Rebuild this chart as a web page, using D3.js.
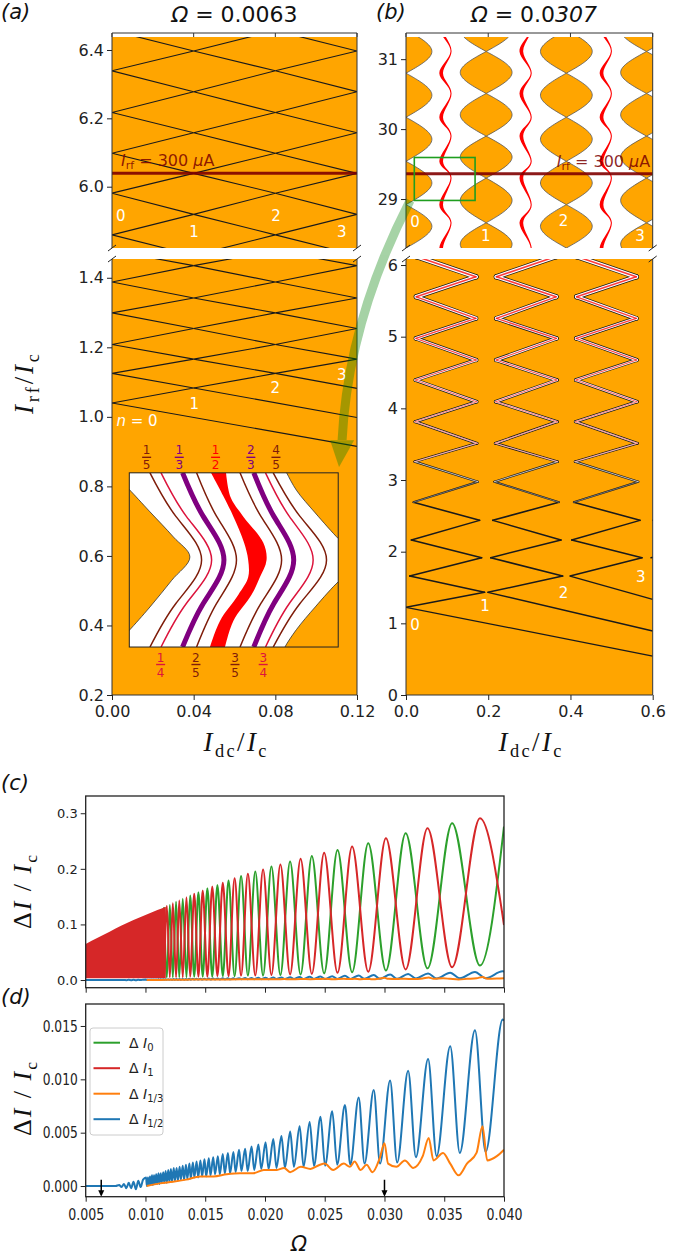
<!DOCTYPE html>
<html>
<head>
<meta charset="utf-8">
<script src="https://cdn.jsdelivr.net/npm/d3@7/dist/d3.min.js"></script>
<style>
html,body{margin:0;padding:0;background:#fff;}
svg{display:block;}
</style>
</head>
<body>
<svg id="fig" width="685" height="1255" xmlns="http://www.w3.org/2000/svg"></svg>
<script>
// ================= DATA =================
// ---- Panel (a): Omega = 0.0063 ----
const aStepEdges = [0, 0.04, 0.08, 0.12];
const aTopVertices = [5.739, 5.799, 5.859, 5.919, 5.981, 6.039, 6.098, 6.158, 6.217, 6.278, 6.339, 6.397, 6.457, 6.517];
const aBotVertices = [1.040, 1.083, 1.125, 1.166, 1.208, 1.254, 1.299, 1.342, 1.388, 1.435, 1.478, 1.522];
const aBotTails = [[0, 1.040, 0.12, 0.915], [0.04, 1.083, 0.12, 0.998], [0.08, 1.125, 0.12, 1.082]];
const aTopYTicks = [6.0, 6.2, 6.4];
const aBotYTicks = [0.2, 0.4, 0.6, 0.8, 1.0, 1.2, 1.4];
const aXTicks = [0, 0.04, 0.08, 0.12];
const aTopLabels = [["0", 0.0043, 5.914], ["1", 0.0402, 5.867], ["2", 0.0803, 5.914], ["3", 0.1125, 5.867]];
const aBotLabels = [["1", 0.0403, 1.036], ["2", 0.080, 1.082], ["3", 0.1125, 1.12]];
const aIrfMark = 6.039;

// ---- Inset of panel (a) (fractional coordinates inside the zoom box) ----
const insetLeftEdge = [[-0.03, 0.94], [0, 0.904], [0.099, 0.776], [0.211, 0.632], [0.29, 0.517], [0.203, 0.383], [0.099, 0.23], [0, 0.096], [-0.03, 0.06]];
const insetTopRightEdge = [[0.74, 1.03], [0.753, 1.0], [0.80, 0.90], [0.89, 0.77], [1.0, 0.623], [1.03, 0.59]];
const insetBotRightEdge = [[1.03, 0.40], [1.0, 0.374], [0.89, 0.23], [0.80, 0.10], [0.745, 0.0], [0.735, -0.03]];
const insetStripeV = [1, 0.75, 0.5, 0.25, 0];
const insetStripeNames = ["1/5", "1/4", "1/3", "2/5", "3/5", "2/3", "3/4", "4/5"];
const insetStripeU = [
  [0.099, 0.223, 0.346, 0.223, 0.099],
  [0.152, 0.273, 0.394, 0.273, 0.152],
  [0.255, 0.354, 0.453, 0.354, 0.255],
  [0.322, 0.418, 0.513, 0.418, 0.322],
  [0.530, 0.630, 0.729, 0.630, 0.530],
  [0.596, 0.692, 0.787, 0.692, 0.596],
  [0.652, 0.766, 0.880, 0.766, 0.652],
  [0.689, 0.817, 0.944, 0.817, 0.689]
];
const insetHalfV = [1, 0.86, 0.75, 0.6, 0.5, 0.4, 0.3, 0.15, 0];
const insetHalfLeft = [0.391, 0.453, 0.498, 0.549, 0.569, 0.569, 0.522, 0.434, 0.386];
const insetHalfRight = [0.463, 0.485, 0.545, 0.641, 0.657, 0.625, 0.585, 0.498, 0.458];
const fracTopNames = ["1/5", "1/3", "1/2", "2/3", "4/5"];
const fracTopU = [0.083, 0.239, 0.413, 0.582, 0.702];
const fracBotNames = ["1/4", "2/5", "3/5", "3/4"];
const fracBotU = [0.150, 0.319, 0.506, 0.641];

// ---- Panel (b): Omega = 0.0307 ----
const bStepEdges = [0, 0.195, 0.39, 0.585, 0.78];
const bBotVertices = [1.224, 1.433, 1.66, 1.916, 2.163, 2.437, 2.69, 2.976, 3.256, 3.512, 3.814, 4.092, 4.395, 4.674, 4.976, 5.255, 5.557, 5.836, 6.12, 6.40];
const bBotGaps = [0.000, 0.004, 0.009, 0.011, 0.013, 0.016, 0.018, 0.020, 0.021, 0.022, 0.022, 0.023, 0.023, 0.024, 0.024, 0.025, 0.025, 0.025, 0.025, 0.025];
const bBotTails = [[0, 1.224, 0.6, 0.544], [0.199, 1.433, 0.6, 0.893], [0.399, 1.66, 0.6, 1.333]];
const bTopColumns = [0, 0.195, 0.39, 0.585];
const bTopPinchesA = [27.68, 28.30, 28.92, 29.54, 30.17, 30.80, 31.42];
const bTopPinchesB = [28.05, 28.66, 29.30, 29.90, 30.51, 31.11, 31.72];
const bTopLobeHalfWidth = 0.063;
const bTopWiggle = 0.012;
const bTopYTicks = [29, 30, 31];
const bBotYTicks = [0, 1, 2, 3, 4, 5, 6];
const bXTicks = [0, 0.2, 0.4, 0.6];
const bTopLabels = [["0", 0.022, 28.666], ["1", 0.194, 28.476], ["2", 0.383, 28.68], ["3", 0.569, 28.476]];
const bBotLabels = [["0", 0.022, 0.977], ["1", 0.192, 1.242], ["2", 0.383, 1.428], ["3", 0.571, 1.642]];
const bIrfMark = 29.36;
const bZoomBox = [0.0202, 0.168, 28.98, 29.594];

// ---- Panels (c), (d): step widths vs Omega ----
const omegaTicks = [0.005, 0.010, 0.015, 0.020, 0.025, 0.030, 0.035, 0.040];
const cYTicks = [0.0, 0.1, 0.2, 0.3];
const dYTicks = [0.000, 0.005, 0.010, 0.015];
const denseOmega = [0.005, 0.006, 0.007, 0.008, 0.009, 0.010, 0.011, 0.0117];
const denseTop = [0.065, 0.076, 0.087, 0.098, 0.108, 0.117, 0.126, 0.132];
const zeroPts = [
[0.01156,0.131],[0.01179,0.005],[0.01204,0.135],[0.01229,0.005],[0.01256,0.141],[0.01283,0.005],[0.01312,0.146],[0.01343,0.005],
[0.01374,0.152],[0.01408,0.006],[0.01443,0.158],[0.01479,0.006],[0.01518,0.165],[0.01559,0.006],[0.01602,0.171],[0.01647,0.007],
[0.01695,0.179],[0.01746,0.007],[0.01800,0.187],[0.01857,0.008],[0.01919,0.195],[0.01984,0.008],[0.02054,0.204],[0.02129,0.009],
[0.02210,0.213],[0.02298,0.010],[0.02392,0.223],[0.02495,0.012],[0.02607,0.234],[0.02729,0.014],[0.02864,0.246],[0.03012,0.017],
[0.03177,0.264],[0.03360,0.021],[0.03566,0.282],[0.03799,0.026],[0.04000,0.276]];
const onePts = [
[0.01156,0.005],[0.01179,0.133],[0.01204,0.005],[0.01229,0.138],[0.01256,0.005],[0.01283,0.143],[0.01312,0.005],[0.01343,0.149],
[0.01374,0.006],[0.01408,0.155],[0.01443,0.006],[0.01479,0.161],[0.01518,0.006],[0.01559,0.168],[0.01602,0.007],[0.01647,0.175],
[0.01695,0.007],[0.01746,0.183],[0.01800,0.008],[0.01857,0.191],[0.01919,0.008],[0.01984,0.199],[0.02054,0.009],[0.02129,0.208],
[0.02210,0.010],[0.02298,0.218],[0.02392,0.011],[0.02495,0.229],[0.02607,0.013],[0.02729,0.240],[0.02864,0.015],[0.03012,0.255],
[0.03177,0.019],[0.03360,0.273],[0.03566,0.023],[0.03799,0.291],[0.04000,0.099]];
const thirdPts = [
[0.0101,0.0000],[0.0112,0.00025],[0.0123,0.0004],[0.0134,0.0006],[0.0146,0.0009],[0.0157,0.0009],[0.0168,0.0011],[0.0179,0.0012],
[0.0190,0.0012],[0.0199,0.0015],[0.0210,0.0015],[0.0216,0.0017],[0.0221,0.0013],[0.0230,0.0018],[0.0238,0.0016],[0.0246,0.0020],
[0.0250,0.0021],[0.0257,0.0015],[0.0266,0.0021],[0.0271,0.0018],[0.0275,0.0023],[0.0280,0.0015],[0.0285,0.0020],[0.0290,0.0013],
[0.0296,0.0026],[0.0300,0.0040],[0.0303,0.0021],[0.0310,0.0018],[0.0317,0.0024],[0.0324,0.0017],[0.0332,0.0028],[0.0337,0.0045],
[0.0341,0.0024],[0.0349,0.0031],[0.0355,0.0021],[0.0362,0.0010],[0.0369,0.0021],[0.0377,0.0031],[0.0382,0.0056],[0.0386,0.0024],
[0.0394,0.0028],[0.0400,0.0034]];
const halfPts = [
[0.0050,0],[0.0075,0],[0.0078,0.0001],[0.0080,-0.0001],[0.0082,0.0002],[0.0084,-0.0002],[0.0086,0.0003],[0.0088,-0.0002],
[0.0090,0.0004],[0.0092,-0.0003],[0.0094,0.0005],[0.0096,-0.0001],[0.0098,0.0006],
[0.01005,0.0008],[0.01012,0.0000],[0.01021,0.0008],[0.01028,0.0001],[0.01038,0.0009],[0.01044,0.0001],[0.01055,0.0010],[0.01062,0.0001],
[0.01072,0.0010],[0.01079,0.0002],[0.01090,0.0011],[0.01098,0.0002],[0.01109,0.0012],[0.01117,0.0002],[0.01128,0.0012],[0.01136,0.0003],
[0.01149,0.0013],[0.01157,0.0003],[0.01169,0.0014],[0.01178,0.0003],[0.01191,0.0015],[0.01200,0.0004],[0.01213,0.0016],[0.01222,0.0004],
[0.01237,0.0017],[0.01246,0.0005],[0.01261,0.0017],[0.01271,0.0005],[0.01286,0.0018],[0.01296,0.0006],[0.01312,0.0019],[0.01323,0.0006],
[0.01339,0.0020],[0.01350,0.0007],[0.01368,0.0021],[0.01379,0.0007],[0.01397,0.0022],[0.01409,0.0008],[0.01428,0.0023],[0.01441,0.0008],
[0.01460,0.0024],[0.01474,0.0009],[0.01494,0.0025],[0.01508,0.0009],[0.01530,0.0026],[0.01544,0.0010],[0.01567,0.0027],[0.01582,0.0011],
[0.01606,0.0028],[0.01622,0.0011],[0.01647,0.0030],[0.01664,0.0012],[0.01690,0.0031],[0.01708,0.0012],[0.01736,0.0032],[0.01754,0.0013],
[0.01783,0.0034],[0.01803,0.0014],[0.01834,0.0035],[0.01855,0.0014],[0.01888,0.0037],[0.01910,0.0015],[0.01945,0.0039],[0.01969,0.0016],
[0.02005,0.0041],[0.02030,0.0016],[0.02070,0.0044],[0.02096,0.0017],[0.02138,0.0047],[0.02167,0.0017],[0.02211,0.0051],[0.02242,0.0018],
[0.02290,0.0056],[0.02323,0.0018],[0.02374,0.0060],[0.02410,0.0019],[0.02465,0.0065],[0.02503,0.0019],[0.02563,0.0070],[0.02604,0.0020],
[0.02669,0.0076],[0.02714,0.0020],[0.02784,0.0083],[0.02833,0.0021],[0.02910,0.0090],[0.02963,0.0021],[0.03047,0.0099],[0.03106,0.0022],
[0.03198,0.0108],[0.03263,0.0027],[0.03365,0.0119],[0.03436,0.0028],[0.03550,0.0131],[0.03630,0.0031],[0.03757,0.0146],[0.03846,0.0032],
[0.03989,0.0156],[0.0400,0.0155]];
const legendNames = ["0", "1", "1/3", "1/2"];
const dMarks = [0.0063, 0.0300];

// ================= STYLE =================
const FONT = '"DejaVu Sans", sans-serif';
const SERIF = '"Liberation Serif", "DejaVu Serif", serif';
const ORANGE = '#ffa500';
const INK = '#222';
const C_GREEN = '#2ca02c', C_RED = '#d62728', C_ORANGE = '#ff7f0e', C_BLUE = '#1f77b4';
const fracColor = {"1/5": '#7f1d0a', "4/5": '#7f1d0a', "2/5": '#7f1d0a', "3/5": '#7f1d0a',
                   "1/4": '#dc143c', "3/4": '#dc143c', "1/3": '#800080', "2/3": '#800080', "1/2": '#ff0000'};
const legendColors = [C_GREEN, C_RED, C_ORANGE, C_BLUE];

// ================= SETUP =================
const svg = d3.select('#fig');
const defs = svg.append('defs');
let clipN = 0;
function clipRect(x0, y0, x1, y1) {
  const id = 'clip' + (clipN++);
  defs.append('clipPath').attr('id', id).append('rect')
    .attr('x', Math.min(x0, x1)).attr('y', Math.min(y0, y1))
    .attr('width', Math.abs(x1 - x0)).attr('height', Math.abs(y1 - y0));
  return 'url(#' + id + ')';
}

// scales
const xA = d3.scaleLinear().domain([0, 0.12]).range([112, 357]);
const yAt = d3.scaleLinear().domain([5.8206, 6.438]).range([248, 37]);
const yAb = d3.scaleLinear().domain([0.2, 1.454]).range([695, 259]);
const xB = d3.scaleLinear().domain([0, 0.6]).range([406, 652.7]);
const yBt = d3.scaleLinear().domain([28.30, 31.317]).range([248, 37]);
const yBb = d3.scaleLinear().domain([0, 6.084]).range([695, 259]);
const xC = d3.scaleLinear().domain([0.005, 0.040]).range([85.7, 504]);
const yC = d3.scaleLinear().domain([-0.0138, 0.331]).range([987.7, 796]);
const yD = d3.scaleLinear().domain([-0.001, 0.01706]).range([1196.7, 1004]);

function panelGroup(xs, ys, fill) {
  const [x0, x1] = xs.range(); const [y0, y1] = ys.range();
  const g = svg.append('g').attr('clip-path', clipRect(x0, y1, x1, y0));
  g.append('rect').attr('x', x0).attr('y', y1).attr('width', x1 - x0).attr('height', y0 - y1).attr('fill', fill);
  return g;
}
function styleAxis(g, fs, tl) {
  g.select('.domain').remove();
  g.selectAll('line').attr('stroke', INK).attr('stroke-width', 1);
  const t = g.selectAll('text').attr('font-family', FONT).attr('font-size', fs).attr('fill', INK);
  if (tl) t.attr('textLength', tl).attr('lengthAdjust', 'spacingAndGlyphs');
}
function yAxis(scale, x, ticks, fmt, fs, tl) {
  const g = svg.append('g').attr('transform', `translate(${x},0)`)
    .call(d3.axisLeft(scale).tickValues(ticks).tickFormat(fmt).tickSize(5).tickPadding(3));
  styleAxis(g, fs, tl);
}
function xAxis(scale, y, ticks, fmt, fs, pad, tl) {
  const g = svg.append('g').attr('transform', `translate(0,${y})`)
    .call(d3.axisBottom(scale).tickValues(ticks).tickFormat(fmt).tickSize(5).tickPadding(pad));
  styleAxis(g, fs, tl);
}
function seg(x1, y1, x2, y2, stroke, w) {
  svg.append('line').attr('x1', x1).attr('y1', y1).attr('x2', x2).attr('y2', y2)
    .attr('stroke', stroke || INK).attr('stroke-width', w || 1);
}
function whiteLabel(g, xs, ys, d, size) {
  g.append('text').attr('x', xs(d[1])).attr('y', ys(d[2])).attr('text-anchor', 'middle')
    .attr('dominant-baseline', 'central').attr('font-family', FONT).attr('font-size', size || 15)
    .attr('fill', '#fff').text(d[0]);
}
function irfLabel(x, y, anchor) {
  const t = svg.append('text').attr('x', x).attr('y', y).attr('text-anchor', anchor)
    .attr('font-family', FONT).attr('font-size', 16).attr('fill', '#7a0000').attr('fill-opacity', 0.85);
  t.append('tspan').attr('font-style', 'italic').text('I');
  t.append('tspan').attr('font-size', 11).attr('dy', 3).text('rf');
  t.append('tspan').attr('dy', -3).text(' = 300 ');
  t.append('tspan').attr('font-style', 'italic').text('μ');
  t.append('tspan').text('A');
}
function markLine(g, xs, ys, v) {
  g.append('line').attr('x1', xs.range()[0]).attr('x2', xs.range()[1]).attr('y1', ys(v)).attr('y2', ys(v))
    .attr('stroke', '#800000').attr('stroke-width', 3).attr('stroke-opacity', 0.9);
}
function breakMarks(xs, yTopBottom, yBotTop) {
  xs.range().forEach(x => {
    seg(x - 4, yTopBottom + 3, x + 4, yTopBottom - 3, INK, 1);
    seg(x - 4, yBotTop + 3, x + 4, yBotTop - 3, INK, 1);
  });
}
function brokenFrame(xs, ysTop, ysBot) {
  const [x0, x1] = xs.range();
  const top = ysTop.range()[1] - 4;
  seg(x0, top, x1, top, '#333', 1);
  seg(x0, top, x0, ysTop.range()[0], '#333', 1);
  seg(x1, top, x1, ysTop.range()[0], '#333', 1);
  seg(x0, ysBot.range()[1], x0, ysBot.range()[0], '#333', 1);
  seg(x1, ysBot.range()[1], x1, ysBot.range()[0], '#333', 1);
  seg(x0, ysBot.range()[0], x1, ysBot.range()[0], '#333', 1);
  return top;
}

// ================= PANEL (a) =================
const gAt = panelGroup(xA, yAt, ORANGE);
const lineAt = d3.line().x(d => xA(d[0])).y(d => yAt(d[1]));
for (let k = 0; k < 3; k++) {
  const pts = aTopVertices.map((v, i) => [(i + k) % 2 === 0 ? aStepEdges[k] : aStepEdges[k + 1], v]);
  gAt.append('path').attr('d', lineAt(pts)).attr('fill', 'none').attr('stroke', '#1a1a1a').attr('stroke-width', 1.1);
}
aTopLabels.forEach(d => whiteLabel(gAt, xA, yAt, d));
markLine(gAt, xA, yAt, aIrfMark);

const gAb = panelGroup(xA, yAb, ORANGE);
const lineAb = d3.line().x(d => xA(d[0])).y(d => yAb(d[1]));
aBotTails.forEach(t => gAb.append('line').attr('x1', xA(t[0])).attr('y1', yAb(t[1])).attr('x2', xA(t[2])).attr('y2', yAb(t[3]))
  .attr('stroke', '#1a1a1a').attr('stroke-width', 1.1));
for (let k = 0; k < 3; k++) {
  const pts = aBotVertices.slice(k).map((v, j) => [j % 2 === 0 ? aStepEdges[k] : aStepEdges[k + 1], v]);
  gAb.append('path').attr('d', lineAb(pts)).attr('fill', 'none').attr('stroke', '#1a1a1a').attr('stroke-width', 1.1);
}
aBotLabels.forEach(d => whiteLabel(gAb, xA, yAb, d));
{
  const t = gAb.append('text').attr('x', xA(0.0022)).attr('y', yAb(0.988)).attr('dominant-baseline', 'central')
    .attr('font-family', FONT).attr('font-size', 15).attr('fill', '#fff');
  t.append('tspan').attr('font-style', 'italic').text('n');
  t.append('tspan').text(' = 0');
}

// ---- inset ----
const iu = d3.scaleLinear().domain([0, 1]).range([xA(0.00847), xA(0.1108)]);
const iv = d3.scaleLinear().domain([0, 1]).range([yAb(0.338), yAb(0.839)]);
const gIn = svg.append('g').attr('clip-path', clipRect(iu(0), iv(1), iu(1), iv(0)));
gIn.append('rect').attr('x', iu(0)).attr('y', iv(1)).attr('width', iu(1) - iu(0)).attr('height', iv(0) - iv(1)).attr('fill', '#fff');
const insetCurve = d3.line().x(d => iu(d[0])).y(d => iv(d[1])).curve(d3.curveCatmullRom);
function closedShape(pts, extra) {
  return insetCurve(pts) + extra.map(p => 'L' + iu(p[0]) + ',' + iv(p[1])).join('') + 'Z';
}
[[insetLeftEdge, [[-0.2, 0.06], [-0.2, 0.94]]],
 [insetTopRightEdge, [[1.2, 0.59], [1.2, 1.03]]],
 [insetBotRightEdge, [[1.2, -0.03], [1.2, 0.40]]]].forEach(s => {
  gIn.append('path').attr('d', closedShape(s[0], s[1])).attr('fill', ORANGE).attr('stroke', '#333').attr('stroke-width', 0.8);
});
const halfArea = d3.area().y(d => iv(d[0])).x0(d => iu(d[1])).x1(d => iu(d[2])).curve(d3.curveCatmullRom);
gIn.append('path').attr('d', halfArea(insetHalfV.map((v, i) => [v, insetHalfLeft[i], insetHalfRight[i]])))
  .attr('fill', fracColor["1/2"]);
insetStripeNames.forEach((name, s) => {
  const pts = insetStripeV.map((v, i) => [insetStripeU[s][i], v]);
  const thick = name.endsWith('/3');
  gIn.append('path').attr('d', d3.line().x(d => iu(d[0])).y(d => iv(d[1])).curve(d3.curveNatural)(pts))
    .attr('fill', 'none').attr('stroke', fracColor[name]).attr('stroke-width', thick ? 5 : 1.5);
});
svg.append('rect').attr('x', iu(0)).attr('y', iv(1)).attr('width', iu(1) - iu(0)).attr('height', iv(0) - iv(1))
  .attr('fill', 'none').attr('stroke', '#222').attr('stroke-width', 1);
function drawFrac(x, yNum, yBar, yDen, name) {
  const [n, d] = name.split('/');
  const col = fracColor[name];
  svg.append('text').attr('x', x).attr('y', yNum).attr('text-anchor', 'middle').attr('font-family', FONT)
    .attr('font-size', 12).attr('fill', col).text(n);
  seg(x - 4.5, yBar, x + 4.5, yBar, col, 1.4);
  svg.append('text').attr('x', x).attr('y', yDen).attr('text-anchor', 'middle').attr('font-family', FONT)
    .attr('font-size', 12).attr('fill', col).text(d);
}
fracTopNames.forEach((nm, i) => drawFrac(iu(fracTopU[i]), iv(1) - 18.5, iv(1) - 15.5, iv(1) - 3.5, nm));
fracBotNames.forEach((nm, i) => drawFrac(iu(fracBotU[i]), iv(0) + 14.5, iv(0) + 17.5, iv(0) + 29.5, nm));

// frame, ticks, labels for (a)
const aTopSpine = brokenFrame(xA, yAt, yAb);
aXTicks.forEach(t => seg(xA(t), aTopSpine, xA(t), aTopSpine + 4, '#333', 1));
yAxis(yAt, xA.range()[0], aTopYTicks, d3.format('.1f'), 16);
yAxis(yAb, xA.range()[0], aBotYTicks, d3.format('.1f'), 16);
xAxis(xA, yAb.range()[0], aXTicks, d3.format('.2f'), 16, 6);
breakMarks(xA, yAt.range()[0], yAb.range()[1]);
irfLabel(xA(0.0044), yAt(aIrfMark) - 7, 'start');

// ================= PANEL (b) =================
const gBt = panelGroup(xB, yBt, '#fff');
const lobeArea = (c) => d3.area().y(d => yBt(d[0])).x0(d => xB(c - d[1])).x1(d => xB(c + d[1])).curve(d3.curveNatural);
bTopColumns.forEach((c, ci) => {
  const P = ci % 2 === 0 ? bTopPinchesA : bTopPinchesB;
  for (let j = 0; j < P.length - 1; j++) {
    const data = [[P[j], 0], [(P[j] + P[j + 1]) / 2, bTopLobeHalfWidth], [P[j + 1], 0]];
    gBt.append('path').attr('d', lobeArea(c)(data)).attr('fill', ORANGE).attr('stroke', '#555').attr('stroke-width', 0.8);
  }
});
for (let k = 0; k < bTopColumns.length - 1; k++) {
  const c = (bTopColumns[k] + bTopColumns[k + 1]) / 2;
  const Pl = k % 2 === 0 ? bTopPinchesA : bTopPinchesB;
  const Pr = k % 2 === 0 ? bTopPinchesB : bTopPinchesA;
  // [offset, irf, half-thickness]
  const pts = Pl.map(p => [c - bTopWiggle, p, 0.0045]).concat(Pr.map(p => [c + bTopWiggle, p, 0.0013])).sort((a, b) => a[1] - b[1]);
  gBt.append('path')
    .attr('d', d3.area().y(d => yBt(d[1])).x0(d => xB(d[0] - d[2])).x1(d => xB(d[0] + d[2])).curve(d3.curveNatural)(pts))
    .attr('fill', '#ff0000');
}
bTopLabels.forEach(d => whiteLabel(gBt, xB, yBt, d));
markLine(gBt, xB, yBt, bIrfMark);
gBt.append('rect').attr('x', xB(bZoomBox[0])).attr('y', yBt(bZoomBox[3]))
  .attr('width', xB(bZoomBox[1]) - xB(bZoomBox[0])).attr('height', yBt(bZoomBox[2]) - yBt(bZoomBox[3]))
  .attr('fill', 'none').attr('stroke', '#1f9e1f').attr('stroke-width', 1.6);

const gBb = panelGroup(xB, yBb, ORANGE);
bBotTails.forEach(t => gBb.append('line').attr('x1', xB(t[0])).attr('y1', yBb(t[1])).attr('x2', xB(t[2])).attr('y2', yBb(t[3]))
  .attr('stroke', '#1a1a1a').attr('stroke-width', 1.3));
const bSegs = [];
for (let k = 0; k < 4; k++) {
  const pts = [];
  bBotVertices.forEach((v, i) => {
    if (i < k) return;
    const x = (i - k) % 2 === 0 ? bStepEdges[k] + bBotGaps[i] : bStepEdges[k + 1] - bBotGaps[i];
    pts.push([x, v]);
  });
  for (let j = 0; j < pts.length - 1; j++) bSegs.push([pts[j], pts[j + 1]]);
}
const bandW = irf => Math.max(0, irf - 2.5) * 1.15;
function segLayer(color, wfn, op) {
  bSegs.forEach(s => {
    const w = wfn((s[0][1] + s[1][1]) / 2);
    if (w <= 0.25) return;
    gBb.append('line').attr('x1', xB(s[0][0])).attr('y1', yBb(s[0][1])).attr('x2', xB(s[1][0])).attr('y2', yBb(s[1][1]))
      .attr('stroke', color).attr('stroke-width', w).attr('stroke-linecap', 'round').attr('stroke-opacity', op || 1);
  });
}
segLayer('#1a1a1a', irf => bandW(irf) + 1.5);
segLayer('#ffffff', irf => bandW(irf));
segLayer('#ff1a1a', irf => bandW(irf) > 1 ? bandW(irf) * 0.4 : 0, 0.85);
bBotLabels.forEach(d => whiteLabel(gBb, xB, yBb, d));

const bTopSpine = brokenFrame(xB, yBt, yBb);
bXTicks.forEach(t => seg(xB(t), bTopSpine, xB(t), bTopSpine + 4, '#333', 1));
yAxis(yBt, xB.range()[0], bTopYTicks, d3.format('d'), 16);
yAxis(yBb, xB.range()[0], bBotYTicks, d3.format('d'), 16);
xAxis(xB, yBb.range()[0], bXTicks, d3.format('.1f'), 16, 6);
breakMarks(xB, yBt.range()[0], yBb.range()[1]);
irfLabel(xB(0.594), yBt(bIrfMark) - 7, 'end');

// ---- big arrow from (b) zoom box to the inset ----
{
  const p0 = [xB(0.010), yBt(28.98)];
  const p2 = [xA(0.1127), yAb(0.933)];
  const ctrl = [p2[0] + 6, p2[1] - 119];
  const tip = [xA(0.1112), yAb(0.856)];
  const ag = svg.append('g').attr('opacity', 0.35);
  ag.append('path').attr('d', `M${p0[0]},${p0[1]} Q${ctrl[0]},${ctrl[1]} ${p2[0]},${p2[1]}`)
    .attr('fill', 'none').attr('stroke', '#008000').attr('stroke-width', 9);
  ag.append('path').attr('d', `M${p2[0] - 12},${p2[1]} L${p2[0] + 12},${p2[1]} L${tip[0]},${tip[1]} Z`).attr('fill', '#008000');
}

// ================= PANEL (c) =================
const gC = svg.append('g').attr('clip-path', clipRect(xC.range()[0], yC.range()[1], xC.range()[1], yC.range()[0]));
const lineC = d3.line().x(d => xC(d[0])).y(d => yC(d[1])).curve(d3.curveMonotoneX);
gC.append('path').attr('d', lineC(zeroPts)).attr('fill', 'none').attr('stroke', C_GREEN).attr('stroke-width', 2);
gC.append('path').attr('d', d3.area().x(d => xC(d[0])).y0(yC(0.003)).y1(d => yC(d[1])).curve(d3.curveMonotoneX)(denseOmega.map((o, i) => [o, denseTop[i]])))
  .attr('fill', C_RED);
gC.append('path').attr('d', lineC(onePts)).attr('fill', 'none').attr('stroke', C_RED).attr('stroke-width', 2);
gC.append('path').attr('d', lineC(halfPts)).attr('fill', 'none').attr('stroke', C_BLUE).attr('stroke-width', 2);
gC.append('path').attr('d', lineC(thirdPts)).attr('fill', 'none').attr('stroke', C_ORANGE).attr('stroke-width', 2);
svg.append('rect').attr('x', xC.range()[0]).attr('y', yC.range()[1]).attr('width', xC.range()[1] - xC.range()[0])
  .attr('height', yC.range()[0] - yC.range()[1]).attr('fill', 'none').attr('stroke', INK).attr('stroke-width', 1.3);
yAxis(yC, xC.range()[0], cYTicks, d3.format('.1f'), 13);
xAxis(xC, yC.range()[0], omegaTicks, () => '', 13, 3);

// ================= PANEL (d) =================
const gD = svg.append('g').attr('clip-path', clipRect(xC.range()[0], yD.range()[1], xC.range()[1], yD.range()[0]));
const lineD = d3.line().x(d => xC(d[0])).y(d => yD(d[1])).curve(d3.curveMonotoneX);
gD.append('path').attr('d', lineD(halfPts)).attr('fill', 'none').attr('stroke', C_BLUE).attr('stroke-width', 2);
gD.append('path').attr('d', lineD(thirdPts)).attr('fill', 'none').attr('stroke', C_ORANGE).attr('stroke-width', 2);
dMarks.forEach(o => {
  const x = xC(o);
  gD.append('line').attr('x1', x).attr('x2', x).attr('y1', yD(0.0006)).attr('y2', yD(-0.0008)).attr('stroke', '#000').attr('stroke-width', 1.5);
  gD.append('path').attr('d', `M${x - 3},${yD(-0.0004)} L${x + 3},${yD(-0.0004)} L${x},${yD(-0.001)} Z`).attr('fill', '#000');
});
svg.append('rect').attr('x', xC.range()[0]).attr('y', yD.range()[1]).attr('width', xC.range()[1] - xC.range()[0])
  .attr('height', yD.range()[0] - yD.range()[1]).attr('fill', 'none').attr('stroke', INK).attr('stroke-width', 1.3);
yAxis(yD, xC.range()[0], dYTicks, d3.format('.3f'), 16, 35);
xAxis(xC, yD.range()[0], omegaTicks, d3.format('.3f'), 16, 6.5, 36);

// legend
{
  const lx = 90, ly = 1028;
  svg.append('rect').attr('x', lx).attr('y', ly).attr('width', 73).attr('height', 107).attr('rx', 3)
    .attr('fill', '#fff').attr('fill-opacity', 0.85).attr('stroke', '#ccc').attr('stroke-width', 1);
  legendNames.forEach((nm, i) => {
    const y = ly + 14.7 + i * 25.5;
    seg(lx + 3.5, y, lx + 30, y, legendColors[i], 2);
    const t = svg.append('text').attr('x', lx + 39).attr('y', y + 5).attr('font-family', FONT).attr('font-size', 14).attr('fill', INK);
    t.append('tspan').text('Δ ');
    t.append('tspan').attr('font-style', 'italic').text('I');
    t.append('tspan').attr('font-size', 10).attr('dy', 3).text(nm);
  });
}

// ================= TEXT: titles, panel letters, axis labels =================
function title(x, y, parts) {
  const t = svg.append('text').attr('x', x).attr('y', y).attr('text-anchor', 'middle')
    .attr('font-family', FONT).attr('font-size', 22).attr('fill', '#111');
  parts.forEach(p => t.append('tspan').attr('font-style', p[1] ? 'italic' : 'normal').text(p[0]));
}
title(234.5, 22, [['Ω', 1], [' = 0.0063', 0]]);
title(534, 22, [['Ω', 1], [' = 0.0', 0], ['307', 1]]);
[['(a)', 1, 19], ['(b)', 376, 19], ['(c)', 1, 790], ['(d)', 1, 1004]].forEach(d => {
  svg.append('text').attr('x', d[1]).attr('y', d[2]).attr('font-family', FONT).attr('font-size', 21)
    .attr('font-style', 'italic').attr('fill', '#111').text(d[0]);
});
function mathLabel(x, y, rot, size, len, parts) {
  const t = svg.append('text').attr('transform', `translate(${x},${y})` + (rot ? ' rotate(-90)' : ''))
    .attr('text-anchor', 'middle').attr('font-family', SERIF).attr('font-size', size).attr('fill', '#111');
  parts.forEach(p => {
    const ts = t.append('tspan').text(p[0]);
    if (p[1] === 'i') ts.attr('font-style', 'italic');
    if (p[1] === 's') ts.attr('font-size', size * 0.68).attr('dy', size * 0.22);
    if (p[1] === 'r') ts.attr('dy', -size * 0.22);
  });
  t.attr('textLength', len).attr('lengthAdjust', 'spacing');
}
mathLabel(33, 384, true, 27, 60, [['I', 'i'], ['rf', 's'], ['/', 'r'], ['I', 'i'], ['c', 's']]);
mathLabel(235, 751, false, 27, 63, [['I', 'i'], ['dc', 's'], ['/', 'r'], ['I', 'i'], ['c', 's']]);
mathLabel(530, 751, false, 27, 63, [['I', 'i'], ['dc', 's'], ['/', 'r'], ['I', 'i'], ['c', 's']]);
mathLabel(31, 892, true, 26, 74, [['Δ', ''], ['I', 'i'], [' / ', ''], ['I', 'i'], ['c', 's']]);
mathLabel(31, 1099, true, 26, 74, [['Δ', ''], ['I', 'i'], [' / ', ''], ['I', 'i'], ['c', 's']]);
svg.append('text').attr('x', 299).attr('y', 1251).attr('text-anchor', 'middle').attr('font-family', FONT)
  .attr('font-size', 21).attr('font-style', 'italic').attr('fill', '#111').text('Ω');
</script>
</body>
</html>
